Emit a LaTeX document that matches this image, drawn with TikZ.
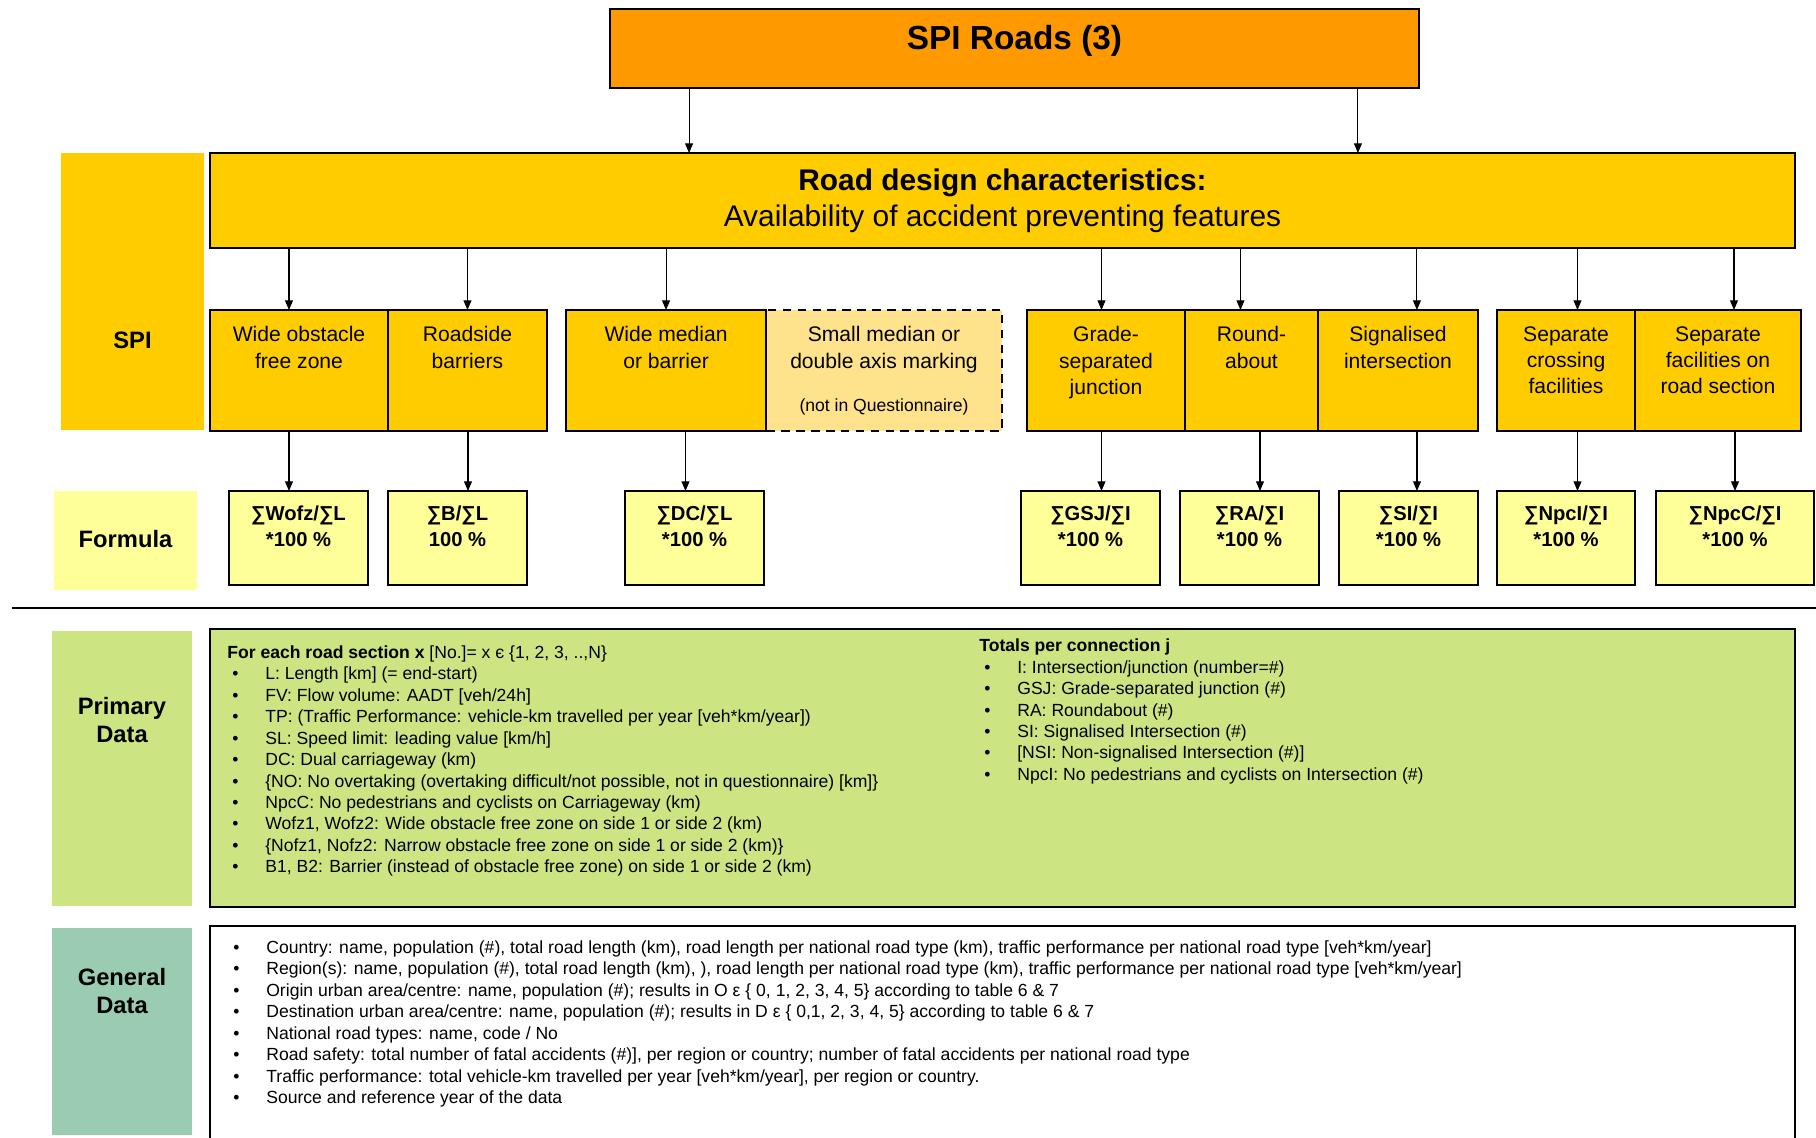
\documentclass[tikz,border=0pt]{standalone}
\usepackage{fontspec}
\usepackage{xcolor}
\usepackage{tikz}
\usetikzlibrary{arrows.meta, positioning}
\setmainfont{Liberation Sans}
\definecolor{spiOrange}{RGB}{255, 153, 0}
\definecolor{spiGold}{RGB}{255, 204, 0}
\definecolor{spiPale}{RGB}{255, 226, 140}
\definecolor{spiLemon}{RGB}{255, 255, 153}
\definecolor{spiGreen}{RGB}{204, 228, 130}
\definecolor{spiTeal}{RGB}{153, 204, 176}
\newcommand{\bul}{\hspace*{0.1cm}\makebox[0.66cm][l]{\textbullet}}

\begin{document}
\begin{tikzpicture}[
    x=0.02cm, y=-0.02cm,
    box/.style={
        rectangle,
        draw=black,
        fill=#1,
        line width=1.4pt,
        outer sep=0pt,
        inner sep=0pt
    },
    sidebox/.style={
        rectangle,
        fill=#1,
        outer sep=0pt,
        inner sep=0pt,
        minimum width=2.8cm
    },
    spibox/.style={box=spiGold, minimum height=2.42cm},
    formbox/.style={box=spiLemon, minimum width=2.78cm, minimum height=1.88cm},
    boxtext/.style={anchor=north, inner sep=0pt, align=center},
    spitext/.style={boxtext, yshift=-0.32cm, font=\fontsize{12}{15}\selectfont},
    formtext/.style={boxtext, yshift=-0.28cm, font=\bfseries\fontsize{11.5}{15.3}\selectfont},
    sidetext/.style={boxtext, font=\bfseries\fontsize{13.5}{16.4}\selectfont},
    listtext/.style={
        anchor=north west,
        inner sep=0pt,
        align=left,
        font=\fontsize{10}{12.2}\selectfont
    },
    arrow/.style={-{Triangle[length=5.5pt, width=4.5pt]}, line width=0.6pt},
    sepline/.style={line width=1.3pt}
]
    \useasboundingbox (0,0) rectangle (1816,1137);
    \clip (0,0) rectangle (1816,1137);

    % Top and road design
    \node[box=spiOrange, minimum width=16.18cm, minimum height=1.58cm,
        label={[boxtext, yshift=-0.31cm, font=\bfseries\fontsize{19}{23}\selectfont]north:SPI Roads (3)}]
        (roads) at (1014.5,48.5) {};
    \node[box=spiGold, minimum width=31.7cm, minimum height=1.9cm, align=center,
        font=\fontsize{17}{20.4}\selectfont] (design) at (1002.5,200.5)
        {\textbf{Road design characteristics:}\\Availability of accident preventing features};

    % Row labels
    \node[sidebox=spiGold, minimum width=2.86cm, minimum height=5.54cm,
        label={[sidetext, yshift=-3.57cm]north:SPI}] (spilbl) at (132.5,291.5) {};
    \node[sidebox=spiLemon, minimum width=2.86cm, minimum height=1.98cm,
        label={[sidetext, yshift=-0.77cm]north:Formula}] (formlbl) at (125.5,540.5) {};
    \node[sidebox=spiGreen, minimum height=5.5cm,
        label={[sidetext, yshift=-1.31cm]north:Primary\\Data}] (primlbl) at (122,768.5) {};
    \node[sidebox=spiTeal, minimum height=4.14cm,
        label={[sidetext, yshift=-0.79cm]north:General\\Data}] (genlbl) at (122,1031.5) {};

    % SPI boxes
    \node[spibox, minimum width=3.56cm,
        label={[spitext]north:Wide obstacle\\free zone}] (wofz) at (299,370.5) {};
    \node[spibox, minimum width=3.18cm, right=0pt of wofz,
        label={[spitext]north:Roadside\\barriers}] (rsb) {};
    \node[spibox, minimum width=4.72cm, fill=spiPale, dash pattern=on 5pt off 3.5pt,
        label={[spitext]north:Small median or\\double axis marking\\[10pt]{\fontsize{10}{12}\selectfont(not in Questionnaire)}}]
        (smdam) at (884,370.5) {};
    \node[spibox, minimum width=4cm, left=0pt of smdam,
        label={[spitext]north:Wide median\\or barrier}] (wmb) {};
    \node[spibox, minimum width=3.16cm,
        label={[spitext]north:Grade-\\separated\\junction}] (gsj) at (1106,370.5) {};
    \node[spibox, minimum width=2.66cm, right=0pt of gsj,
        label={[spitext]north:Round-\\about}] (ra) {};
    \node[spibox, minimum width=3.2cm, right=0pt of ra,
        label={[spitext]north:Signalised\\intersection}] (si) {};
    \node[spibox, minimum width=2.76cm,
        label={[spitext]north:Separate\\crossing\\facilities}] (scf) at (1566,370.5) {};
    \node[spibox, minimum width=3.32cm, right=0pt of scf,
        label={[spitext]north:Separate\\facilities on\\road section}] (sfr) {};

    % Formulas
    \node[formbox, label={[formtext]north:∑Wofz/∑L\\{}*100 \%}] (fwofz) at (298.5,538) {};
    \node[formbox, label={[formtext]north:∑B/∑L\\100 \%}] (fb) at (457.5,538) {};
    \node[formbox, label={[formtext]north:∑DC/∑L\\{}*100 \%}] (fdc) at (694.5,538) {};
    \node[formbox, label={[formtext]north:∑GSJ/∑I\\{}*100 \%}] (fgsj) at (1090.5,538) {};
    \node[formbox, label={[formtext]north:∑RA/∑I\\{}*100 \%}] (fra) at (1249.5,538) {};
    \node[formbox, label={[formtext]north:∑SI/∑I\\{}*100 \%}] (fsi) at (1408.5,538) {};
    \node[formbox, minimum width=2.76cm,
        label={[formtext]north:∑NpcI/∑I\\{}*100 \%}] (fnpci) at (1566,538) {};
    \node[formbox, minimum width=3.16cm,
        label={[formtext]north:∑NpcC/∑I\\{}*100 \%}] (fnpcc) at (1735,538) {};

    % Arrows
    \draw[arrow] ([xshift=-6.51cm]roads.south) -- ([xshift=-6.51cm]roads.south |- design.north);
    \draw[arrow] ([xshift=6.87cm]roads.south) -- ([xshift=6.87cm]roads.south |- design.north);
    \draw[arrow] ([xshift=-0.2cm]design.south -| wofz.north) -- ([xshift=-0.2cm]wofz.north);
    \draw[arrow] (design.south -| rsb.north) -- (rsb.north);
    \draw[arrow] (design.south -| wmb.north) -- (wmb.north);
    \draw[arrow] ([xshift=-0.09cm]design.south -| gsj.north) -- ([xshift=-0.09cm]gsj.north);
    \draw[arrow] ([xshift=-0.22cm]design.south -| ra.north) -- ([xshift=-0.22cm]ra.north);
    \draw[arrow] ([xshift=0.38cm]design.south -| si.north) -- ([xshift=0.38cm]si.north);
    \draw[arrow] ([xshift=0.23cm]design.south -| scf.north) -- ([xshift=0.23cm]scf.north);
    \draw[arrow] ([xshift=0.32cm]design.south -| sfr.north) -- ([xshift=0.32cm]sfr.north);

    \draw[arrow] ([xshift=-0.19cm]fwofz.north |- wofz.south) -- ([xshift=-0.19cm]fwofz.north);
    \draw[arrow] ([xshift=0.21cm]fb.north |- rsb.south) -- ([xshift=0.21cm]fb.north);
    \draw[arrow] ([xshift=-0.18cm]fdc.north |- wmb.south) -- ([xshift=-0.18cm]fdc.north);
    \draw[arrow] ([xshift=0.22cm]fgsj.north |- gsj.south) -- ([xshift=0.22cm]fgsj.north);
    \draw[arrow] ([xshift=0.21cm]fra.north |- ra.south) -- ([xshift=0.21cm]fra.north);
    \draw[arrow] ([xshift=0.17cm]fsi.north |- si.south) -- ([xshift=0.17cm]fsi.north);
    \draw[arrow] ([xshift=0.23cm]fnpci.north |- scf.south) -- ([xshift=0.23cm]fnpci.north);
    \draw[arrow] (fnpcc.north |- sfr.south) -- (fnpcc.north);

    % Separator
    \draw[sepline] (12,608) -- (1816,608);

    % Data boxes
    \node[box=spiGreen, minimum width=31.7cm, minimum height=5.56cm] (primary) at (1002.5,768) {};
    \node[box=white, minimum width=31.7cm, minimum height=4.68cm] (general) at (1002.5,1043) {};

    \node[listtext] (primtxt) at (227,645.4) {\textbf{For each road section x} [No.]= x є \{1, 2, 3, ..,N\}\\
        \bul L: Length [km] (= end-start)\\
        \bul FV: Flow volume: AADT [veh/24h]\\
        \bul TP: (Traffic Performance: vehicle-km travelled per year [veh*km/year])\\
        \bul SL: Speed limit: leading value [km/h]\\
        \bul DC: Dual carriageway (km)\\
        \bul \{NO: No overtaking (overtaking difficult/not possible, not in questionnaire) [km]\}\\
        \bul NpcC: No pedestrians and cyclists on Carriageway (km)\\
        \bul Wofz1, Wofz2: Wide obstacle free zone on side 1 or side 2 (km)\\
        \bul \{Nofz1, Nofz2: Narrow obstacle free zone on side 1 or side 2 (km)\}\\
        \bul B1, B2: Barrier (instead of obstacle free zone) on side 1 or side 2 (km)};
    \node[listtext] (conntxt) at (979,638.7) {\textbf{Totals per connection j}\\
        \bul I: Intersection/junction (number=\#)\\
        \bul GSJ: Grade-separated junction (\#)\\
        \bul RA: Roundabout (\#)\\
        \bul SI: Signalised Intersection (\#)\\
        \bul [NSI: Non-signalised Intersection (\#)]\\
        \bul NpcI: No pedestrians and cyclists on Intersection (\#)};
    \node[listtext] (gentxt) at (228,940.4) {\bul Country: name, population (\#), total road length (km), road length per national road type (km), traffic performance per national road type [veh*km/year]\\
        \bul Region(s): name, population (\#), total road length (km), ), road length per national road type (km), traffic performance per national road type [veh*km/year]\\
        \bul Origin urban area/centre: name, population (\#); results in O ε \{ 0, 1, 2, 3, 4, 5\} according to table 6 \& 7\\
        \bul Destination urban area/centre: name, population (\#); results in D ε \{ 0,1, 2, 3, 4, 5\} according to table 6 \& 7\\
        \bul National road types: name, code / No\\
        \bul Road safety: total number of fatal accidents (\#)], per region or country; number of fatal accidents per national road type\\
        \bul Traffic performance: total vehicle-km travelled per year [veh*km/year], per region or country.\\
        \bul Source and reference year of the data};

\end{tikzpicture}
\end{document}
